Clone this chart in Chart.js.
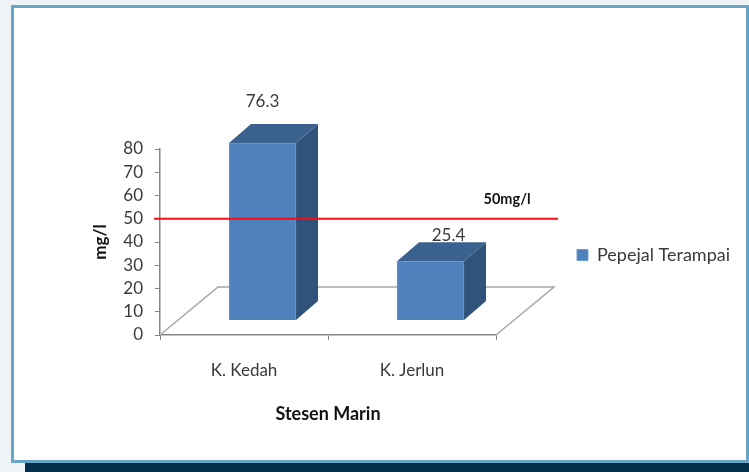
<!DOCTYPE html>
<html>
<head>
<meta charset="utf-8">
<style>
html,body{margin:0;padding:0;width:749px;height:472px;overflow:hidden;background:#eef3f8}
#bar{position:absolute;left:25px;top:462px;width:724px;height:10px;background:#04304d}
#frame{position:absolute;left:11px;top:5px;width:738px;height:458px;box-sizing:border-box;background:#fff;border:3.5px solid #6aa5c8;border-right-width:3px}
canvas{position:absolute;left:0;top:0}
</style>
<script src="https://cdn.jsdelivr.net/npm/chart.js@4"></script>
</head>
<body>
<div id="bar"></div>
<div id="frame"></div>
<canvas id="c" width="749" height="472"></canvas>
<script>
const categories = ['K. Kedah', 'K. Jerlun'];
const seriesName = 'Pepejal Terampai';
const values = [76.3, 25.4];
const yTicks = [0, 10, 20, 30, 40, 50, 60, 70, 80];
const limitValue = 50;
const limitLabel = '50mg/l';
const xTitle = 'Stesen Marin';
const yTitle = 'mg/l';

const FONT = 'Lato, Carlito, "Open Sans", sans-serif';
const floorDepth = {x: 58, y: -48};
const barShift = {x: 18.5, y: -14.6};
const barDepth = {x: 22, y: -19};
const labelShift = [{x: 0, y: -41}, {x: 18, y: -26}];

function poly(ctx, pts, fill) {
  ctx.beginPath();
  pts.forEach((p, i) => i ? ctx.lineTo(p[0], p[1]) : ctx.moveTo(p[0], p[1]));
  ctx.closePath();
  ctx.fillStyle = fill;
  ctx.fill();
}

const fake3d = {
  id: 'fake3d',
  afterLayout(chart) {
    const l = chart.legend;
    const w = l.width, h = l.height;
    l.left = 572; l.right = 572 + w; l.top = 241; l.bottom = 241 + h;
    l.adjustHitBoxes();
  },
  beforeDatasetsDraw(chart) {
    const {ctx, chartArea: a} = chart;
    ctx.save();
    ctx.strokeStyle = '#a6a6a6';
    ctx.lineWidth = 1.5;
    ctx.beginPath();
    ctx.moveTo(a.left, a.bottom);
    ctx.lineTo(a.left + floorDepth.x, a.bottom + floorDepth.y);
    ctx.lineTo(a.right + floorDepth.x, a.bottom + floorDepth.y);
    ctx.lineTo(a.right, a.bottom);
    ctx.stroke();
    ctx.restore();
    ctx.save();
    ctx.translate(barShift.x, barShift.y);
    chart.getDatasetMeta(0).data.forEach(el => {
      const L = el.x - el.width / 2, R = el.x + el.width / 2, T = el.y, B = el.base;
      poly(ctx, [[R, T], [R + barDepth.x, T + barDepth.y], [R + barDepth.x, B + barDepth.y], [R, B]], '#31527b');
      poly(ctx, [[L, T], [L + barDepth.x, T + barDepth.y], [R + barDepth.x, T + barDepth.y], [R, T]], '#3b628f');
    });
  },
  afterDatasetsDraw(chart) {
    const {ctx, chartArea: a, scales} = chart;
    ctx.restore();
    ctx.save();
    const y = scales.y.getPixelForValue(limitValue);
    ctx.strokeStyle = '#f50d1a';
    ctx.lineWidth = 2;
    ctx.beginPath();
    ctx.moveTo(a.left - 6, y);
    ctx.lineTo(a.right + 62, y);
    ctx.stroke();
    ctx.textAlign = 'center';
    ctx.textBaseline = 'middle';
    ctx.fillStyle = '#111';
    ctx.font = 'bold 14.5px ' + FONT;
    ctx.fillText(limitLabel, a.right + 11, y - 19);
    ctx.fillStyle = '#3a3a3a';
    ctx.font = '17px ' + FONT;
    chart.getDatasetMeta(0).data.forEach((el, i) => {
      ctx.fillText(String(values[i]), el.x + barShift.x + labelShift[i].x, el.y + barShift.y + labelShift[i].y);
    });
    ctx.restore();
  }
};

new Chart(document.getElementById('c'), {
  type: 'bar',
  data: {
    labels: categories,
    datasets: [{
      label: seriesName,
      data: values,
      backgroundColor: '#4f81bd',
      borderColor: '#6c9bd2',
      borderWidth: 1,
      barThickness: 67
    }]
  },
  plugins: [fake3d],
  options: {
    responsive: false,
    animation: false,
    layout: {padding: {left: 88, right: 253, top: 149, bottom: 47}},
    plugins: {
      tooltip: {enabled: false},
      legend: {
        position: 'chartArea',
        align: 'start',
        labels: {
          boxWidth: 11, boxHeight: 11, padding: 5,
          color: '#3a3a3a',
          font: {family: FONT, size: 18}
        }
      }
    },
    scales: {
      x: {
        afterFit(s) { s.height = 90; },
        grid: {drawOnChartArea: false, color: '#868686', tickLength: 5},
        border: {color: '#868686', width: 1.5},
        ticks: {color: '#3a3a3a', padding: 20, maxRotation: 0, font: {family: FONT, size: 17}},
        title: {display: true, text: xTitle, color: '#111', padding: {top: 0, bottom: 0}, font: {family: FONT, size: 18, weight: 'bold'}}
      },
      y: {
        min: 0, max: 80,
        afterFit(s) { s.width = 72; },
        afterBuildTicks(s) { s.ticks = yTicks.map(v => ({value: v})); },
        grid: {drawOnChartArea: false, color: '#868686', tickLength: 5},
        border: {color: '#868686', width: 1.5},
        ticks: {color: '#3a3a3a', padding: 12, autoSkip: false, font: {family: FONT, size: 17}},
        title: {display: true, text: yTitle, color: '#111', padding: {top: 2, bottom: 0}, font: {family: FONT, size: 17, weight: 'bold'}}
      }
    }
  }
});
</script>
</body>
</html>
